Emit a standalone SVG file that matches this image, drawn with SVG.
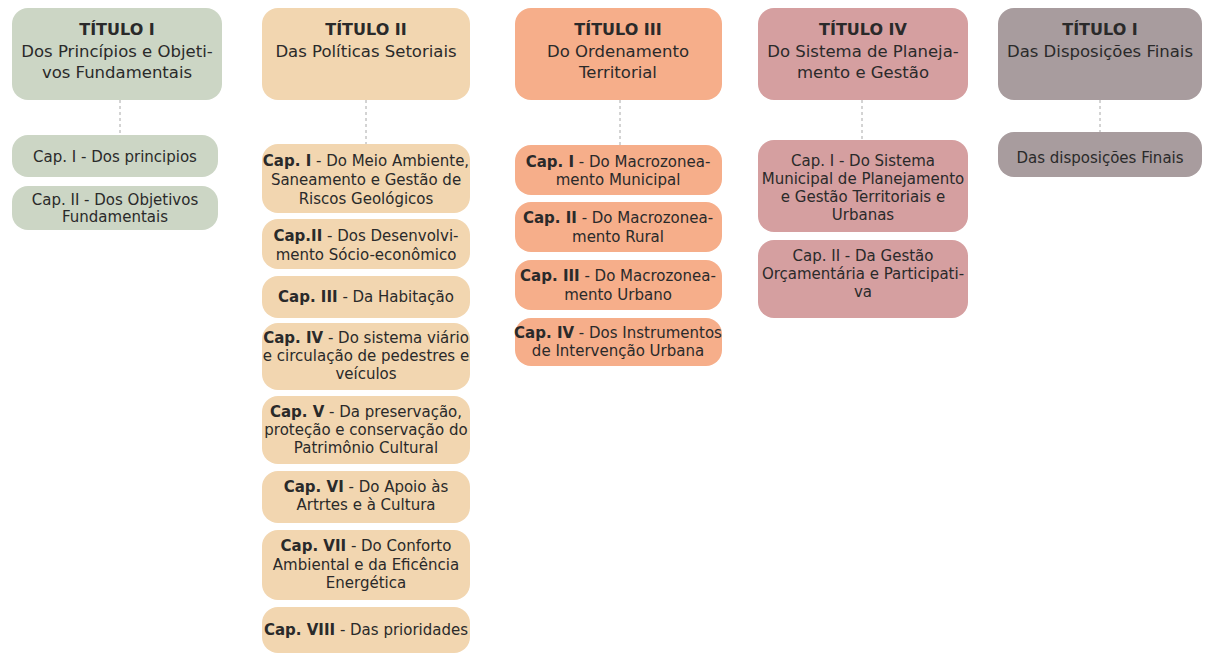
<svg xmlns="http://www.w3.org/2000/svg" width="1205" height="659" viewBox="0 0 1205 659">
<style>
text{font-family:"DejaVu Sans","Liberation Sans",sans-serif;fill:#2a2a2a;text-anchor:middle}
.t{font-size:16.5px}
.c{font-size:15px}
.b{font-weight:bold}
.t .b{font-size:16px}
.g{fill:#ccd6c5}
.y{fill:#f2d6b0}
.s{fill:#f6ae8a}
.r{fill:#d59fa0}
.m{fill:#a89c9e}
.conn line{stroke:#a8a8a8;stroke-width:1;stroke-dasharray:3 3}
</style>
<rect width="1205" height="659" fill="#ffffff"/>
<g class="conn" id="connectors">
<line x1="120" y1="100" x2="120" y2="135"/>
<line x1="366" y1="100" x2="366" y2="144"/>
<line x1="620" y1="100" x2="620" y2="145"/>
<line x1="862" y1="100" x2="862" y2="140"/>
<line x1="1100" y1="100" x2="1100" y2="132"/>
</g>
<!-- Column 1 -->
<g id="t1"><rect class="g" x="12" y="8" width="210" height="92" rx="16"/>
<text class="t"><tspan class="b" x="117" y="35">TÍTULO I</tspan><tspan x="117" y="57">Dos Princípios e Objeti-</tspan><tspan x="117" y="78">vos Fundamentais</tspan></text></g>
<g id="t1c1"><rect class="g" x="12" y="135" width="206" height="42" rx="16"/>
<text class="c" x="115" y="162">Cap. I - Dos principios</text></g>
<g id="t1c2"><rect class="g" x="12" y="186" width="206" height="44" rx="16"/>
<text class="c"><tspan x="115" y="205">Cap. II - Dos Objetivos</tspan><tspan x="115" y="222">Fundamentais</tspan></text></g>
<!-- Column 2 -->
<g id="t2"><rect class="y" x="262" y="8" width="208" height="92" rx="16"/>
<text class="t"><tspan class="b" x="366" y="35">TÍTULO II</tspan><tspan x="366" y="57">Das Políticas Setoriais</tspan></text></g>
<g id="t2c1"><rect class="y" x="262" y="144" width="208" height="69" rx="16"/>
<text class="c"><tspan x="366" y="166"><tspan class="b">Cap. I</tspan> - Do Meio Ambiente,</tspan><tspan x="366" y="185">Saneamento e Gestão de</tspan><tspan x="366" y="204">Riscos Geológicos</tspan></text></g>
<g id="t2c2"><rect class="y" x="262" y="219" width="208" height="50" rx="16"/>
<text class="c"><tspan x="366" y="241"><tspan class="b">Cap.II</tspan> - Dos Desenvolvi-</tspan><tspan x="366" y="260">mento Sócio-econômico</tspan></text></g>
<g id="t2c3"><rect class="y" x="262" y="276" width="208" height="42" rx="16"/>
<text class="c" x="366" y="302"><tspan class="b">Cap. III</tspan> - Da Habitação</text></g>
<g id="t2c4"><rect class="y" x="262" y="323" width="208" height="67" rx="16"/>
<text class="c"><tspan x="366" y="343"><tspan class="b">Cap. IV</tspan> - Do sistema viário</tspan><tspan x="366" y="361">e circulação de pedestres e</tspan><tspan x="366" y="379">veículos</tspan></text></g>
<g id="t2c5"><rect class="y" x="262" y="396" width="208" height="68" rx="16"/>
<text class="c"><tspan x="366" y="417"><tspan class="b">Cap. V</tspan> - Da preservação,</tspan><tspan x="366" y="435">proteção e conservação do</tspan><tspan x="366" y="453">Patrimônio Cultural</tspan></text></g>
<g id="t2c6"><rect class="y" x="262" y="471" width="208" height="52" rx="16"/>
<text class="c"><tspan x="366" y="492"><tspan class="b">Cap. VI</tspan> - Do Apoio às</tspan><tspan x="366" y="510">Artrtes e à Cultura</tspan></text></g>
<g id="t2c7"><rect class="y" x="262" y="530" width="208" height="70" rx="16"/>
<text class="c"><tspan x="366" y="551"><tspan class="b">Cap. VII</tspan> - Do Conforto</tspan><tspan x="366" y="570">Ambiental e da Eficência</tspan><tspan x="366" y="588">Energética</tspan></text></g>
<g id="t2c8"><rect class="y" x="262" y="607" width="208" height="46" rx="16"/>
<text class="c" x="366" y="635"><tspan class="b">Cap. VIII</tspan> - Das prioridades</text></g>
<!-- Column 3 -->
<g id="t3"><rect class="s" x="515" y="8" width="207" height="92" rx="16"/>
<text class="t"><tspan class="b" x="618" y="35">TÍTULO III</tspan><tspan x="618" y="57">Do Ordenamento</tspan><tspan x="618" y="78">Territorial</tspan></text></g>
<g id="t3c1"><rect class="s" x="515" y="145" width="207" height="50" rx="16"/>
<text class="c"><tspan x="618" y="167"><tspan class="b">Cap. I</tspan> - Do Macrozonea-</tspan><tspan x="618" y="185">mento Municipal</tspan></text></g>
<g id="t3c2"><rect class="s" x="515" y="202" width="207" height="50" rx="16"/>
<text class="c"><tspan x="618" y="223"><tspan class="b">Cap. II</tspan> - Do Macrozonea-</tspan><tspan x="618" y="242">mento Rural</tspan></text></g>
<g id="t3c3"><rect class="s" x="515" y="260" width="207" height="50" rx="16"/>
<text class="c"><tspan x="618" y="281"><tspan class="b">Cap. III</tspan> - Do Macrozonea-</tspan><tspan x="618" y="300">mento Urbano</tspan></text></g>
<g id="t3c4"><rect class="s" x="515" y="318" width="207" height="48" rx="16"/>
<text class="c"><tspan x="618" y="338"><tspan class="b">Cap. IV</tspan> - Dos Instrumentos</tspan><tspan x="618" y="356">de Intervenção Urbana</tspan></text></g>
<!-- Column 4 -->
<g id="t4"><rect class="r" x="758" y="8" width="210" height="92" rx="16"/>
<text class="t"><tspan class="b" x="863" y="35">TÍTULO IV</tspan><tspan x="863" y="57">Do Sistema de Planeja-</tspan><tspan x="863" y="78">mento e Gestão</tspan></text></g>
<g id="t4c1"><rect class="r" x="758" y="140" width="210" height="92" rx="16"/>
<text class="c"><tspan x="863" y="166">Cap. I - Do Sistema</tspan><tspan x="863" y="184">Municipal de Planejamento</tspan><tspan x="863" y="202">e Gestão Territoriais e</tspan><tspan x="863" y="220">Urbanas</tspan></text></g>
<g id="t4c2"><rect class="r" x="758" y="240" width="210" height="78" rx="16"/>
<text class="c"><tspan x="863" y="261">Cap. II - Da Gestão</tspan><tspan x="863" y="279">Orçamentária e Participati-</tspan><tspan x="863" y="297">va</tspan></text></g>
<!-- Column 5 -->
<g id="t5"><rect class="m" x="998" y="8" width="204" height="92" rx="16"/>
<text class="t"><tspan class="b" x="1100" y="35">TÍTULO I</tspan><tspan x="1100" y="57">Das Disposições Finais</tspan></text></g>
<g id="t5c1"><rect class="m" x="998" y="132" width="204" height="45" rx="16"/>
<text class="c" x="1100" y="163">Das disposições Finais</text></g>
</svg>
